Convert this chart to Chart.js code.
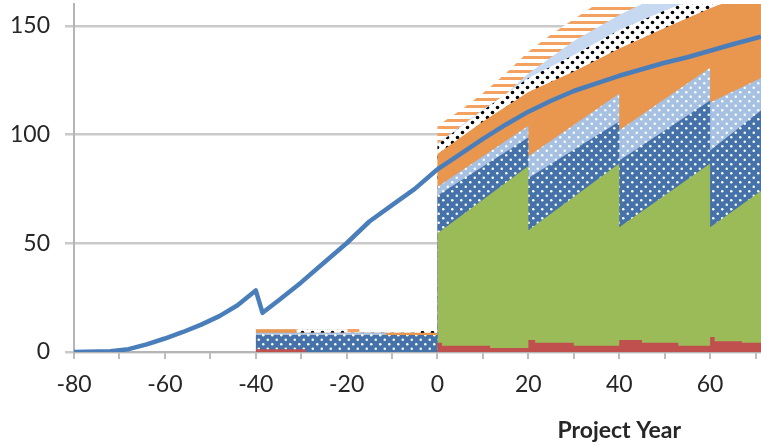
<!DOCTYPE html>
<html><head><meta charset="utf-8">
<script src="https://cdn.jsdelivr.net/npm/chart.js@4.4.0/dist/chart.umd.min.js"></script>
<style>html,body{margin:0;padding:0;background:#fff;overflow:hidden}#wrap{width:761px;height:445px;position:relative}</style>
</head><body><div id="wrap"><canvas id="c" width="761" height="445"></canvas></div>
<script>
// ---- tick values / labels ----
const xTickValues = [-80,-70,-60,-50,-40,-30,-20,-10,0,10,20,30,40,50,60,70];
const xTickLabels = [-80,-60,-40,-20,0,20,40,60];
const yTickValues = [0,50,100,150];
const xTitle = 'Project Year';

// ---- blue line (total) ----
const lineYears  = [-80,-72,-68,-64,-60,-56,-52,-48,-44,-40,-38.5,-35,-30,-25,-20,-15,-10,-5,0,5,10,15,20,25,30,35,40,45,50,55,60,65,71.2];
const lineValues = [0,0.3,1.3,3.5,6.2,9.2,12.6,16.5,21.5,28.3,18,23.7,32,41,50,60,67.5,75,84,91,98,104.5,110.5,115.5,120,123.5,127,130,133,135.5,138.5,141.5,145];

// ---- stacked bands: upper boundary of each band ----
const redYears = [-40,-29,0,1,11.6,20,21.5,30,40,45,53,60,61,67,71.2];
const redTop   = [1.3,0,4.3,2.9,1.8,5.5,4.3,2.9,5.5,4.3,2.9,6.9,5.0,4.3,4.3];

const greenYears = [0,20,20,40,40,60,60,71.2];
const greenTop   = [54.6,85.5,56,86.7,57.3,86.7,57.3,74];

const darkBlueYears = [-40,0,0,20,20,40,40,60,60,71.2];
const darkBlueTop   = [7.8,7.8,72,98.6,80,106,88,115.6,92.7,111];

const lightBlueYears = [-40,-11.4,-11.4,0,0,20,20,40,40,60,60,71.2];
const lightBlueTop   = [8.9,8.9,7.8,7.8,76,104,90,118.8,102,130.7,114.7,126];

const orangeYears = [-40,-31,-31,0,0,10,20,30,40,50,60,71.2];
const orangeTop   = [10.5,10.5,8.9,8.9,91,106,119.5,129,139.5,149,158,167];

const blackDotYears = [-40,-19.8,-19.8,-5,-5,0,0,10,20,30,40,50,60,71.2];
const blackDotTop   = [10.5,10.5,8.9,8.9,9.6,9.6,95.5,111,126,136.5,148,157,165,173];

const paleBlueYears = [-40,-19.8,-19.8,-5,-5,0,0,10,15,20,30,40,50,71.2];
const paleBlueTop   = [10.5,10.5,8.9,8.9,9.6,9.6,96,111.5,118.5,128,143,155,165,180];

const stripeYears = [-40,-17.2,-17.2,-5,-5,0,0,5,10,15,20,25,30,35,71.2];
const stripeTop   = [11.6,11.6,8.9,8.9,9.6,9.6,104,111,119,128,138,146,153,160,200];

// ---- fills ----
const canvas = document.getElementById('c');
const ctx = canvas.getContext('2d');
function tile(w, h, draw) {
  const t = document.createElement('canvas'); t.width = w; t.height = h;
  const g = t.getContext('2d'); draw(g);
  return ctx.createPattern(t, 'repeat');
}
function dotted(size, bg, dot, r) {
  return tile(size, size, g => {
    g.fillStyle = bg; g.fillRect(0, 0, size, size);
    g.fillStyle = dot;
    [[size/4, size/4],[3*size/4, 3*size/4]].forEach(([x,y]) => { g.beginPath(); g.arc(x, y, r, 0, Math.PI*2); g.fill(); });
  });
}
const stripes = tile(8, 7, g => {
  g.fillStyle = '#ffffff'; g.fillRect(0, 0, 8, 7);
  g.fillStyle = '#f4a261'; g.fillRect(0, 0, 8, 3);
});

const pts = (xs, ys) => xs.map((x, i) => ({x, y: ys[i]}));
function band(label, xs, ys, fillStyle, order) {
  return { label, data: pts(xs, ys), backgroundColor: fillStyle, borderWidth: 0,
    pointRadius: 0, fill: 'origin', order, tension: 0 };
}

const datasets = [
  { label: 'Total', data: pts(lineYears, lineValues), borderColor: '#4a7ebb', borderWidth: 4.5,
    pointRadius: 0, fill: false, tension: 0, order: 0, borderJoinStyle: 'round' },
  Object.assign(band('Red', redYears, redTop, '#c0504d', 1), { stepped: 'before' }),
  band('Green', greenYears, greenTop, '#9bbb59', 2),
  band('Dark blue', darkBlueYears, darkBlueTop, dotted(9, '#4672aa', '#ffffff', 1.25), 3),
  band('Light blue', lightBlueYears, lightBlueTop, dotted(9, '#a6c1e2', '#ffffff', 1.25), 4),
  band('Orange', orangeYears, orangeTop, '#e9964e', 5),
  band('Black dots', blackDotYears, blackDotTop, dotted(10, '#ffffff', '#000000', 1.8), 6),
  band('Pale blue', paleBlueYears, paleBlueTop, '#c6d9f1', 7),
  band('Stripes', stripeYears, stripeTop, stripes, 8),
];

const FONT = 'Lato';
const titlePlugin = {
  id: 'xtitle',
  afterDraw(chart) {
    const s = chart.scales.x, c = chart.ctx;
    c.save();
    c.font = 'bold 23px ' + FONT;
    c.fillStyle = '#262626';
    c.textAlign = 'center'; c.textBaseline = 'middle';
    c.fillText(xTitle, s.getPixelForValue(40), 431);
    c.restore();
  }
};

new Chart(ctx, {
  type: 'line',
  data: { datasets },
  plugins: [titlePlugin],
  options: {
    responsive: false, animation: false, events: [],
    layout: { padding: { top: 4, right: 0, left: 0, bottom: 0 } },
    plugins: { legend: { display: false }, tooltip: { enabled: false } },
    scales: {
      x: {
        type: 'linear', min: -80, max: 71.2,
        afterFit: s => { s.height = 93; s.paddingLeft = 0; s.paddingRight = 0; },
        afterBuildTicks: s => { s.ticks = xTickValues.map(v => ({ value: v })); },
        ticks: { autoSkip: false, maxRotation: 0, padding: 12, color: '#262626',
          font: { family: FONT, size: 23 },
          callback: v => xTickLabels.includes(v) ? String(v) : '' },
        grid: { drawOnChartArea: false, drawTicks: true, tickLength: 7, color: '#bdbdbd', lineWidth: 2 },
        border: { display: true, color: '#b5b5b5', width: 2 }
      },
      y: {
        min: 0, max: 160,
        afterFit: s => { s.width = 74; s.paddingTop = 0; s.paddingBottom = 0; },
        afterBuildTicks: s => { s.ticks = yTickValues.map(v => ({ value: v })); },
        ticks: { padding: 15, color: '#262626', font: { family: FONT, size: 23 },
          callback: v => String(v) },
        grid: { color: '#cacaca', lineWidth: 2.5, tickLength: 9 },
        border: { display: true, color: '#b5b5b5', width: 2 }
      }
    }
  }
});
</script></body></html>
